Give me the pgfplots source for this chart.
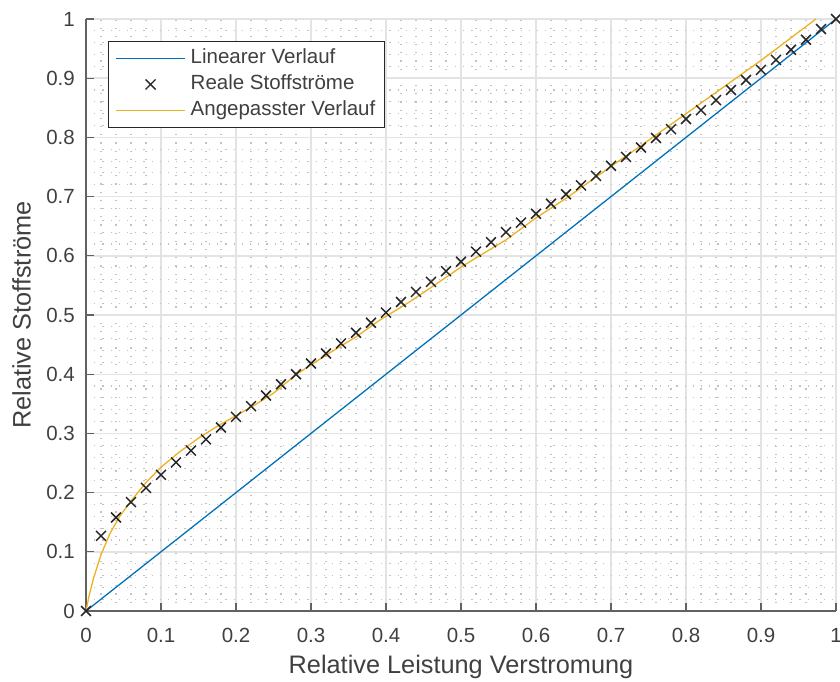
\documentclass[border=0pt]{standalone}
\usepackage{fontspec}
\setmainfont{Liberation Sans}
\setsansfont{Liberation Sans}
\usepackage{pgfplots}
\pgfplotsset{compat=1.18}
\definecolor{mblue}{rgb}{0,0.447,0.741}
\definecolor{morange}{rgb}{0.929,0.694,0.125}
\definecolor{mtext}{rgb}{0.25,0.25,0.25}
\definecolor{maxis}{rgb}{0.38,0.38,0.38}
\begin{document}
\begin{tikzpicture}
\begin{axis}[
  name=ax,
  at={(0,0)}, anchor=south west,
  scale only axis, width=750pt, height=592pt,
  xmin=0, xmax=1, ymin=0, ymax=1,
  axis lines=left,
  axis line style={-, maxis, line width=1.2pt},
  xtick={0,0.1,...,1.0}, ytick={0,0.1,...,1.0},
  xticklabels={0,0.1,0.2,0.3,0.4,0.5,0.6,0.7,0.8,0.9,1},
  yticklabels={0,0.1,0.2,0.3,0.4,0.5,0.6,0.7,0.8,0.9,1},
  minor x tick num=4, minor y tick num=4,
  tick align=inside,
  major tick length=8pt, minor tick length=0pt,
  major tick style={maxis, line width=1.2pt},
  grid=both,
  major grid style={black!11, line width=1.4pt},
  minor grid style={black!24, line width=1.1pt, dash pattern=on 1.2pt off 7pt},
  /pgf/number format/assume math mode=true,
  ticklabel style={font=\fontsize{20.5}{24}\selectfont, text=mtext},
  xticklabel style={anchor=north, inner sep=0pt, yshift=-17pt},
  yticklabel style={anchor=east, inner sep=0pt, xshift=-11pt},
  xlabel={Relative Leistung Verstromung},
  ylabel={Relative Stoffströme},
  label style={font=\fontsize{25.3}{30}\selectfont, text=mtext},
  xlabel style={at={(axis description cs:0.5,0)}, anchor=north, inner sep=0pt, yshift=-44pt},
  ylabel style={at={(axis description cs:0,0.5)}, anchor=north, inner sep=0pt, yshift=74pt},
  clip=false,
  legend cell align=left,
  legend style={at={(axis description cs:0.0293,0.9628)}, anchor=north west,
    draw=black!85, line width=0.9pt, fill=white, text=mtext,
    font=\fontsize{20.5}{24}\selectfont,
    inner xsep=7pt, inner ysep=4pt, row sep=0pt,
    nodes={inner ysep=3pt, inner xsep=2pt, text height=15pt, text depth=5pt},
    /tikz/every odd column/.append style={column sep=3pt}},
  legend image code/.code={\draw[#1] (0pt,0pt) -- (69pt,0pt);},
]
\addplot[mblue, line width=1.3pt] coordinates {(0,0) (1,1)};
\addlegendentry{Linearer Verlauf}

\addplot[only marks, mark=x, mark size=7pt, mark options={line width=1.5pt, black!85},
  legend image code/.code={\path[draw=none] (0pt,0pt) -- (69pt,0pt); \draw[black!85, line width=1.3pt] (29.5pt,-5pt) -- (39.5pt,5pt) (29.5pt,5pt) -- (39.5pt,-5pt);}]
coordinates {
(0,0) (0.02,0.127) (0.04,0.158) (0.06,0.184) (0.08,0.208) (0.10,0.230)
(0.12,0.251) (0.14,0.271) (0.16,0.290) (0.18,0.310) (0.20,0.328)
(0.22,0.346) (0.24,0.364) (0.26,0.383) (0.28,0.400) (0.30,0.418)
(0.32,0.435) (0.34,0.452) (0.36,0.470) (0.38,0.487) (0.40,0.504)
(0.42,0.522) (0.44,0.539) (0.46,0.556) (0.48,0.574) (0.50,0.590)
(0.52,0.607) (0.54,0.623) (0.56,0.640) (0.58,0.656) (0.60,0.671)
(0.62,0.688) (0.64,0.704) (0.66,0.719) (0.68,0.735) (0.70,0.752)
(0.72,0.767) (0.74,0.783) (0.76,0.799) (0.78,0.814) (0.80,0.831)
(0.82,0.846) (0.84,0.863) (0.86,0.880) (0.88,0.897) (0.90,0.914)
(0.92,0.931) (0.94,0.948) (0.96,0.965) (0.98,0.983) (1.00,1.000)
};
\addlegendentry{Reale Stoffströme}

\addplot[morange, line width=1.3pt] coordinates {
(0,0) (0.004,0.025) (0.01,0.055) (0.02,0.095) (0.032,0.131) (0.045,0.160)
(0.06,0.186) (0.08,0.217) (0.10,0.243) (0.125,0.269) (0.15,0.292)
(0.175,0.312) (0.20,0.330) (0.225,0.348) (0.25,0.368) (0.28,0.399)
(0.30,0.416) (0.33,0.440) (0.36,0.463) (0.392,0.4916) (0.43,0.521)
(0.463,0.549) (0.50,0.581) (0.53,0.604) (0.56,0.627) (0.60,0.664)
(0.64,0.697) (0.70,0.751) (0.74,0.786) (0.80,0.840) (0.85,0.885)
(0.90,0.930) (0.9733,1.0)
};
\addlegendentry{Angepasster Verlauf}
\end{axis}
\pgfresetboundingbox
\path ([shift={(-86pt,-70pt)}]ax.south west) rectangle ([shift={(4pt,19pt)}]ax.north east);
\end{tikzpicture}
\end{document}
